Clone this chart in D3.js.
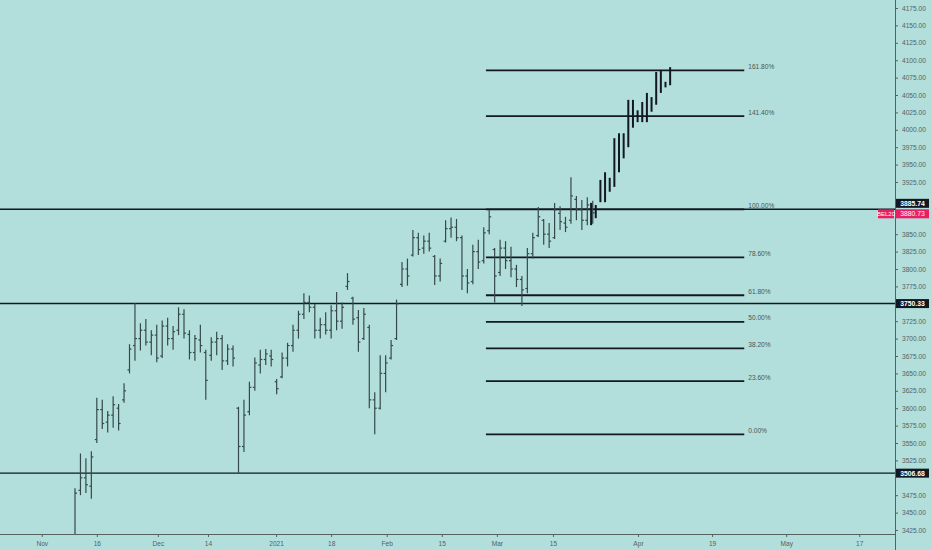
<!DOCTYPE html>
<html>
<head>
<meta charset="utf-8">
<script src="https://cdn.jsdelivr.net/npm/d3@7"></script>
<style>
  html, body { margin: 0; padding: 0; background: #b2dfdb; }
  svg { display: block; font-family: "Liberation Sans", Arial, sans-serif; }
</style>
</head>
<body>
<div id="wrapper"></div>
<script>
// BEL20 daily bars, one entry per session from 2020-11-09 on
const barOpen = [
  3390, 3482, 3500, 3488, 3555, 3598, 3580, 3590, 3600, 3612,
  3655, 3690, 3700, 3712, 3695, 3705, 3675, 3718, 3700, 3712,
  3735, 3706, 3680, 3698, 3680, 3676, 3695, 3700, 3668, 3685,
  3600, 3545, 3595, 3630, 3662, 3670, 3675, 3638, 3645, 3672,
  3690, 3712, 3735, 3752, 3745, 3712, 3720, 3712, 3740, 3725,
  3775, 3758, 3730, 3700, 3716, 3612, 3600, 3650, 3672, 3700,
  3778, 3800, 3820, 3845, 3830, 3840, 3818, 3790, 3840, 3858,
  3860, 3845, 3790, 3782, 3825, 3812, 3855, 3828, 3795, 3830,
  3812, 3800, 3785, 3772, 3822, 3848, 3870, 3850, 3845, 3880,
  3866, 3870, 3900, 3885, 3870, 3890
];
const barHigh = [
  3485, 3535, 3528, 3538, 3615, 3612, 3596, 3617, 3606, 3636,
  3692, 3751, 3722, 3728, 3712, 3720, 3726, 3730, 3718, 3745,
  3742, 3712, 3705, 3720, 3684, 3702, 3710, 3705, 3692, 3690,
  3602, 3612, 3638, 3673, 3684, 3685, 3684, 3642, 3680, 3694,
  3720, 3740, 3765, 3762, 3750, 3730, 3738, 3748, 3767, 3752,
  3794, 3760, 3741, 3744, 3720, 3623, 3676, 3676, 3698, 3756,
  3810, 3815, 3856, 3852, 3848, 3852, 3820, 3815, 3870, 3874,
  3872, 3848, 3800, 3835, 3842, 3860, 3885, 3830, 3842, 3840,
  3832, 3806, 3790, 3830, 3852, 3889, 3872, 3866, 3895, 3890,
  3875, 3932, 3905, 3899, 3903, 3898
];
const barLow = [
  3380, 3475, 3478, 3470, 3550, 3570, 3565, 3572, 3568, 3608,
  3650, 3668, 3683, 3690, 3676, 3666, 3672, 3690, 3684, 3705,
  3700, 3670, 3668, 3680, 3612, 3668, 3676, 3655, 3662, 3660,
  3507, 3537, 3590, 3625, 3650, 3662, 3660, 3620, 3643, 3660,
  3681, 3700, 3728, 3738, 3700, 3700, 3706, 3700, 3712, 3714,
  3770, 3720, 3681, 3698, 3600, 3562.5, 3598, 3623, 3670, 3698,
  3774, 3776, 3818, 3820, 3822, 3825, 3777, 3782, 3838, 3845,
  3840, 3770, 3765, 3778, 3800, 3808, 3850, 3752, 3790, 3800,
  3788, 3774, 3747, 3765, 3815, 3846, 3835, 3830, 3843, 3856,
  3853, 3865, 3870, 3856, 3863, 3865
];
const barClose = [
  3478, 3500, 3490, 3530, 3598, 3578, 3590, 3605, 3578, 3625,
  3685, 3700, 3712, 3695, 3705, 3672, 3718, 3700, 3710, 3735,
  3708, 3680, 3700, 3690, 3640, 3695, 3700, 3668, 3685, 3672,
  3545, 3590, 3630, 3665, 3670, 3678, 3670, 3628, 3672, 3690,
  3712, 3735, 3752, 3745, 3712, 3720, 3712, 3740, 3725, 3745,
  3782, 3728, 3695, 3735, 3612, 3600, 3650, 3665, 3690, 3750,
  3800, 3790, 3845, 3828, 3840, 3830, 3790, 3808, 3858, 3860,
  3845, 3790, 3780, 3825, 3810, 3852, 3875, 3790, 3830, 3812,
  3800, 3785, 3770, 3822, 3845, 3875, 3850, 3840, 3885, 3868,
  3860, 3905, 3885, 3870, 3892, 3880.73
];

// projected "bars pattern" drawing (high / low only)
const patternHigh = [3895, 3892, 3928, 3939, 3931, 3988, 3995, 3995, 4043, 4043,
                     4028, 4040, 4053, 4047, 4083, 4086, 4069, 4090];
const patternLow  = [3863, 3873, 3896, 3896, 3911, 3918, 3939, 3959, 3975, 4003,
                     4011, 4011, 4011, 4026, 4036, 4053, 4061, 4064];
const patternAnchors = [94.7, 109.2];   // bar index of first / last projected bar

// fibonacci retracement
const fibLevels = [0, 0.236, 0.382, 0.5, 0.618, 0.786, 1, 1.414, 1.618];
const fibLabels = ["0.00%", "23.60%", "38.20%", "50.00%", "61.80%", "78.60%", "100.00%", "141.40%", "161.80%"];
const fibPrices = [3562.5, 3885.74];    // 0% and 100%
const fibAnchors = [75.4, 122.8];       // bar index span of the tool

// horizontal lines
const levelPrices = [3885.74, 3750.33, 3506.68];
const lastPrice = 3880.73;
const symbol = "BEL20";

// axes
const priceTicks = d3.range(3425, 4176, 25);
const timeTickBars = [-6.1, 4.0, 15.2, 24.4, 36.9, 47.0, 57.2, 67.3, 77.4, 87.7, 103.3, 116.9, 130.5, 143.9];
const timeTickLabels = ["Nov", "16", "Dec", "14", "2021", "18", "Feb", "15", "Mar", "15", "Apr", "19", "May", "17"];

function drawChart() {

  // 1. Dimensions

  const dimensions = {
    width: 932,
    height: 550,
    plotRight: 895,
    plotBottom: 534,
  };

  // 2. Canvas

  const wrapper = d3.select("#wrapper")
    .append("svg")
      .attr("width", dimensions.width)
      .attr("height", dimensions.height);

  wrapper.append("rect")
      .attr("width", dimensions.width)
      .attr("height", dimensions.height)
      .attr("fill", "#b2dfdb");

  wrapper.append("clipPath")
      .attr("id", "plot-clip")
    .append("rect")
      .attr("width", dimensions.plotRight)
      .attr("height", dimensions.plotBottom);

  const plot = wrapper.append("g")
      .attr("clip-path", "url(#plot-clip)");

  // 3. Scales

  const xScale = d3.scaleLinear()
    .domain([0, 100])
    .range([75, 620]);

  const yScale = d3.scaleLinear()
    .domain([3425, 4175])
    .range([530, 8]);

  // 4. Horizontal lines and fib

  plot.selectAll(".level")
    .data(levelPrices)
    .join("line")
      .attr("class", "level")
      .attr("x1", 0)
      .attr("x2", dimensions.plotRight)
      .attr("y1", d => yScale(d))
      .attr("y2", d => yScale(d))
      .attr("stroke", "#131722")
      .attr("stroke-width", 1.4);

  const fibRange = fibPrices[1] - fibPrices[0];
  const fib = plot.selectAll(".fib")
    .data(fibLevels)
    .join("g")
      .attr("class", "fib");

  fib.append("line")
      .attr("x1", xScale(fibAnchors[0]))
      .attr("x2", xScale(fibAnchors[1]))
      .attr("y1", d => yScale(fibPrices[0] + d * fibRange))
      .attr("y2", d => yScale(fibPrices[0] + d * fibRange))
      .attr("stroke", "#131722")
      .attr("stroke-width", 1.8);

  fib.append("text")
      .attr("x", xScale(fibAnchors[1]) + 4)
      .attr("y", d => yScale(fibPrices[0] + d * fibRange) - 1.5)
      .attr("font-size", 6.6)
      .attr("fill", "#4a5555")
      .text((d, i) => fibLabels[i]);

  // 5. OHLC bars

  const bars = plot.selectAll(".bar")
    .data(barOpen.map((o, i) => ({ i, o, h: barHigh[i], l: barLow[i], c: barClose[i] })))
    .join("g")
      .attr("class", "bar")
      .attr("stroke", "#36494a")
      .attr("stroke-width", 1.2);

  bars.append("line")
      .attr("x1", d => xScale(d.i))
      .attr("x2", d => xScale(d.i))
      .attr("y1", d => yScale(d.h))
      .attr("y2", d => yScale(d.l));

  bars.append("line")
      .attr("x1", d => xScale(d.i) - 2)
      .attr("x2", d => xScale(d.i))
      .attr("y1", d => yScale(d.o))
      .attr("y2", d => yScale(d.o));

  bars.append("line")
      .attr("x1", d => xScale(d.i))
      .attr("x2", d => xScale(d.i) + 2)
      .attr("y1", d => yScale(d.c))
      .attr("y2", d => yScale(d.c));

  // projected pattern, spread evenly between its anchors
  const patternStep = (patternAnchors[1] - patternAnchors[0]) / (patternHigh.length - 1);
  plot.selectAll(".pattern")
    .data(patternHigh)
    .join("line")
      .attr("class", "pattern")
      .attr("x1", (d, i) => xScale(patternAnchors[0] + i * patternStep))
      .attr("x2", (d, i) => xScale(patternAnchors[0] + i * patternStep))
      .attr("y1", d => yScale(d))
      .attr("y2", (d, i) => yScale(patternLow[i]))
      .attr("stroke", "#131722")
      .attr("stroke-width", 2);

  // 6. Axes

  const axisColor = "#56625f";
  const labelColor = "#56625f";

  // price tags sit on the axis; tick labels under them are dropped
  const boxH = 9;
  const boxW = 33;
  const levelLabels = levelPrices.map(p => ({
    price: p,
    // top line's label is pushed up so it clears the last-price tag
    y: yScale(p) - (p === levelPrices[0] ? 6 : 0),
  }));
  const lastY = yScale(lastPrice) + 1;
  const tagYs = levelLabels.map(d => d.y).concat([lastY]);
  const visibleTicks = priceTicks.filter(t =>
    tagYs.every(y => Math.abs(yScale(t) - y) > boxH - 0.5));

  const yAxis = wrapper.append("g")
      .attr("transform", `translate(${dimensions.plotRight}, 0)`)
    .call(d3.axisRight(yScale)
      .tickValues(visibleTicks)
      .tickSize(3)
      .tickPadding(4)
      .tickFormat(d3.format(".2f")));

  yAxis.select(".domain").remove();
  yAxis.selectAll("line").attr("stroke", axisColor);
  yAxis.selectAll("text")
      .attr("font-size", 6.6)
      .attr("font-family", "Liberation Sans, Arial, sans-serif")
      .attr("fill", labelColor);

  const xAxis = wrapper.append("g")
      .attr("transform", `translate(0, ${dimensions.plotBottom})`)
    .call(d3.axisBottom(xScale)
      .tickValues(timeTickBars)
      .tickSize(3)
      .tickPadding(4)
      .tickFormat((d, i) => timeTickLabels[i]));

  xAxis.select(".domain").remove();
  xAxis.selectAll("line").attr("stroke", axisColor);
  xAxis.selectAll("text")
      .attr("font-size", 6.6)
      .attr("font-family", "Liberation Sans, Arial, sans-serif")
      .attr("fill", labelColor);

  wrapper.append("line")
      .attr("x1", 0)
      .attr("x2", dimensions.plotRight)
      .attr("y1", dimensions.plotBottom + 0.5)
      .attr("y2", dimensions.plotBottom + 0.5)
      .attr("stroke", axisColor);

  wrapper.append("line")
      .attr("x1", dimensions.plotRight + 0.5)
      .attr("x2", dimensions.plotRight + 0.5)
      .attr("y1", 0)
      .attr("y2", dimensions.height)
      .attr("stroke", axisColor);

  // 7. Price labels on the axis

  const tags = wrapper.selectAll(".tag")
    .data(levelLabels)
    .join("g")
      .attr("class", "tag")
      .attr("transform", d => `translate(${dimensions.plotRight + 1}, ${d.y})`);

  tags.append("rect")
      .attr("y", -boxH / 2)
      .attr("width", boxW)
      .attr("height", boxH)
      .attr("fill", "#131722");

  tags.append("text")
      .attr("x", boxW / 2)
      .attr("dy", "0.35em")
      .attr("text-anchor", "middle")
      .attr("font-size", 6.8)
      .attr("font-weight", "bold")
      .attr("fill", "#ffffff")
      .text(d => d.price.toFixed(2));

  const last = wrapper.append("g")
      .attr("transform", `translate(0, ${lastY})`);

  last.append("rect")
      .attr("x", dimensions.plotRight + 1)
      .attr("y", -boxH / 2)
      .attr("width", boxW)
      .attr("height", boxH)
      .attr("fill", "#e91e63");

  last.append("text")
      .attr("x", dimensions.plotRight + 1 + boxW / 2)
      .attr("dy", "0.35em")
      .attr("text-anchor", "middle")
      .attr("font-size", 6.8)
      .attr("fill", "#ffffff")
      .text(lastPrice.toFixed(2));

  last.append("rect")
      .attr("x", dimensions.plotRight - 17)
      .attr("y", -boxH / 2)
      .attr("width", 16)
      .attr("height", boxH)
      .attr("fill", "#e91e63");

  last.append("text")
      .attr("x", dimensions.plotRight - 9)
      .attr("dy", "0.35em")
      .attr("text-anchor", "middle")
      .attr("font-size", 6)
      .attr("fill", "#ffffff")
      .text(symbol);
}
drawChart();
</script>
</body>
</html>
